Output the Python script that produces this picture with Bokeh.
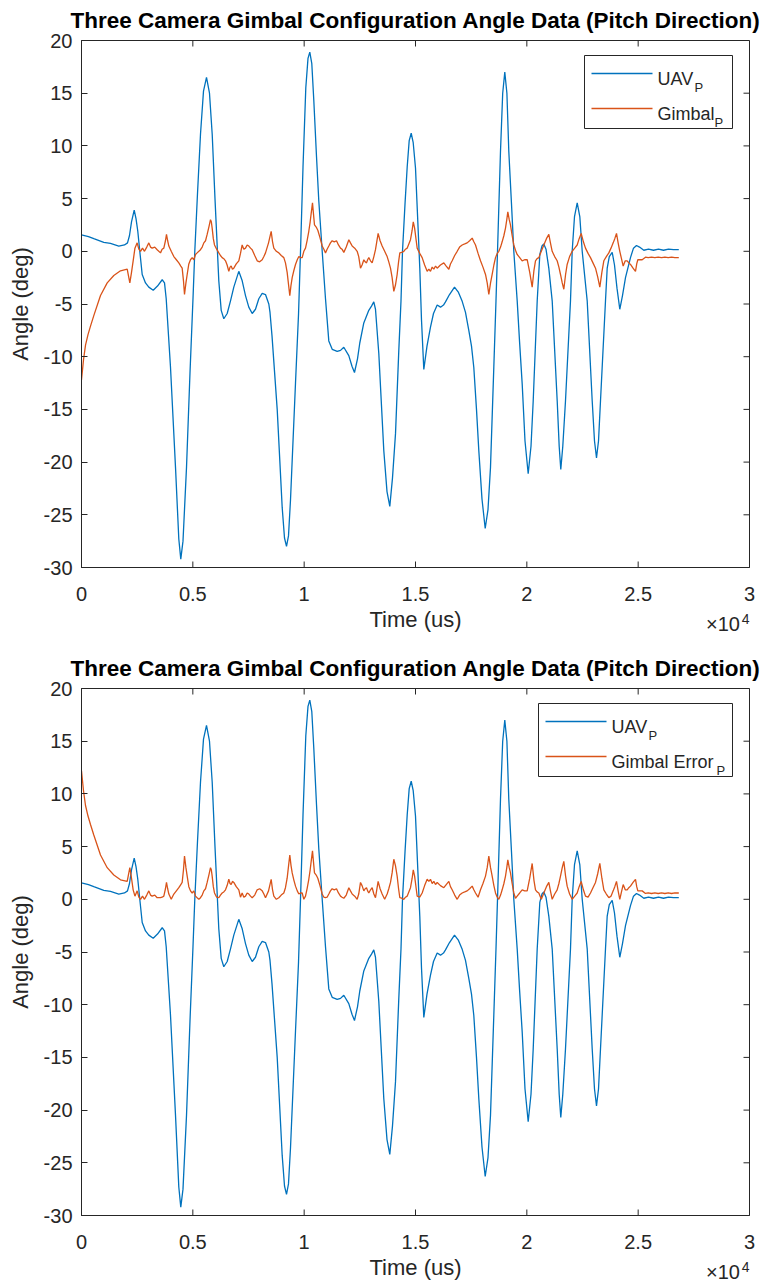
from bokeh.plotting import figure
from bokeh.layouts import column
from bokeh.models import (Range1d, FixedTicker, Label, BoxAnnotation,
                          ColumnDataSource, Title)
from bokeh.embed import file_html
from bokeh.resources import INLINE

# ---------------------------------------------------------------- data
# UAV pitch angle (deg) against time (us)
uav_time = [
    0, 314, 552, 1001, 1302, 1675, 1931, 2066, 2156, 2246,
    2367, 2448, 2528, 2618, 2726, 2874, 3022, 3220, 3413, 3624,
    3728, 3804, 3997, 4222, 4370, 4459, 4558, 4716, 4873, 5007,
    5088, 5210, 5344, 5479, 5614, 5748, 5870, 5995, 6094, 6166,
    6274, 6391, 6543, 6692, 6840, 7064, 7217, 7365, 7513, 7666,
    7814, 7963, 8115, 8263, 8412, 8466, 8555, 8789, 9013, 9117,
    9207, 9296, 9386, 9611, 9746, 9836, 9948, 10073, 10172, 10253,
    10343, 10433, 10554, 10657, 10810, 10958, 11106, 11259, 11484, 11632,
    11780, 12004, 12148, 12260, 12395, 12498, 12678, 12903, 13024, 13127,
    13203, 13352, 13576, 13720, 13846, 13967, 14102, 14250, 14349, 14416,
    14529, 14627, 14717, 14807, 14897, 15000, 15090, 15193, 15269, 15373,
    15516, 15673, 15808, 15974, 16123, 16257, 16347, 16527, 16752, 16931,
    17097, 17245, 17394, 17515, 17618, 17739, 17843, 17986, 18130, 18256,
    18368, 18517, 18615, 18683, 18817, 18916, 19010, 19105, 19190, 19311,
    19415, 19567, 19671, 19792, 19918, 20061, 20187, 20286, 20466, 20583,
    20681, 20762, 20861, 20987, 21139, 21364, 21453, 21525, 21615, 21736,
    21961, 22037, 22141, 22262, 22379, 22487, 22711, 22936, 23039, 23129,
    23219, 23308, 23533, 23609, 23703, 23834, 23937, 24049, 24175, 24296,
    24431, 24655, 24790, 24925, 25060, 25253, 25464, 25689, 25913, 26138,
    26362, 26587, 26825,
]
uav_pitch = [
    1.55, 1.4, 1.2, 0.85, 0.75, 0.5, 0.6, 0.8, 1.5, 2.8,
    3.9, 3.1, 1.9, 0.0, -2.2, -3.0, -3.4, -3.7, -3.3, -2.7,
    -3.0, -4.5, -11.0, -20.5, -27.3, -29.2, -27.5, -20.5, -11.5, -4.5,
    0.0, 5.5, 11.1, 15.2, 16.5, 15.0, 11.1, 5.0, 0.5, -2.8,
    -5.6, -6.4, -5.9, -4.7, -3.4, -1.9, -2.8, -4.2, -5.3, -5.9,
    -5.5, -4.5, -4.0, -4.1, -5.0, -5.8, -8.0, -15.0, -24.3, -27.2,
    -28.0, -27.0, -23.6, -12.5, -6.0, 0.0, 8.0, 15.5, 18.3, 18.9,
    17.8, 14.3, 9.0, 4.8, 0.0, -4.5, -8.5, -9.3, -9.5, -9.4,
    -9.1, -9.9, -10.9, -11.5, -10.2, -8.7, -6.8, -5.6, -5.2, -4.8,
    -5.5, -9.7, -18.9, -22.8, -24.2, -21.5, -17.3, -9.4, -4.7, 0.0,
    4.5, 8.0, 10.5, 11.2, 10.3, 7.9, 3.5, -1.6, -6.5, -11.2,
    -9.0, -7.2, -5.9, -5.1, -5.3, -5.1, -4.8, -4.1, -3.4, -3.9,
    -4.75, -5.8, -7.5, -9.0, -11.0, -15.0, -18.9, -23.5, -26.3, -24.5,
    -20.5, -11.0, -4.7, 0.0, 9.5, 15.0, 17.0, 15.0, 9.5, 4.5,
    0.0, -4.7, -8.5, -12.6, -18.0, -21.1, -18.5, -14.2, -4.7, -0.3,
    0.5, 0.7, 0.2, -1.6, -4.7, -14.2, -18.5, -20.7, -18.5, -14.2,
    -4.7, 0.0, 3.3, 4.6, 3.3, 0.0, -4.7, -14.2, -18.0, -19.6,
    -18.0, -14.2, -4.7, -1.6, -0.5, -0.1, -1.3, -3.5, -5.5, -4.2,
    -2.5, -0.6, 0.3, 0.55, 0.4, 0.1, 0.2, 0.1, 0.2, 0.1,
    0.2, 0.15, 0.15,
]

# Gimbal pitch angle (deg) and its error magnitude against time (us)
gimbal_time = [
    0, 90, 180, 292, 404, 552, 853, 1154, 1451, 1751,
    2052, 2171, 2246, 2320, 2400, 2500, 2575, 2650, 2740, 2829,
    2930, 3024, 3100, 3173, 3290, 3398, 3548, 3620, 3697, 3770,
    3817, 3870, 3922, 4030, 4147, 4260, 4371, 4460, 4521, 4580,
    4626, 4690, 4746, 4820, 4895, 4970, 5045, 5120, 5194, 5270,
    5344, 5420, 5494, 5570, 5643, 5720, 5793, 5830, 5868, 5920,
    5973, 6070, 6167, 6240, 6317, 6390, 6467, 6540, 6616, 6670,
    6721, 6780, 6840, 6950, 7065, 7140, 7215, 7290, 7365, 7440,
    7515, 7590, 7665, 7780, 7890, 8000, 8115, 8190, 8264, 8400,
    8518, 8580, 8637, 8750, 8862, 8970, 9086, 9160, 9236, 9300,
    9355, 9410, 9462, 9540, 9611, 9690, 9761, 9836, 9911, 9985,
    10060, 10130, 10208, 10270, 10315, 10374, 10420, 10464, 10540, 10613,
    10710, 10810, 10885, 10958, 11030, 11107, 11180, 11257, 11350, 11452,
    11540, 11632, 11700, 11781, 11890, 12006, 12080, 12156, 12270, 12380,
    12450, 12530, 12600, 12680, 12740, 12800, 12850, 12903, 12980, 13053,
    13130, 13203, 13260, 13322, 13410, 13502, 13615, 13727, 13800, 13877,
    13950, 14026, 14100, 14176, 14240, 14296, 14380, 14475, 14550, 14625,
    14700, 14775, 14850, 14900, 14960, 15075, 15190, 15299, 15410, 15524,
    15600, 15673, 15750, 15823, 15900, 15973, 16120, 16272, 16380, 16497,
    16570, 16647, 16760, 16872, 16980, 17096, 17210, 17321, 17430, 17546,
    17620, 17695, 17810, 17920, 18030, 18144, 18220, 18293, 18370, 18443,
    18520, 18593, 18670, 18742, 18820, 18892, 18970, 19042, 19100, 19146,
    19210, 19266, 19340, 19415, 19490, 19565, 19680, 19790, 19900, 20016,
    20130, 20240, 20320, 20389, 20460, 20538, 20650, 20763, 20880, 20988,
    21060, 21138, 21250, 21362, 21440, 21512, 21590, 21661, 21740, 21811,
    21920, 22036, 22150, 22261, 22350, 22441, 22540, 22634, 22750, 22859,
    22970, 23084, 23180, 23278, 23370, 23458, 23570, 23683, 23780, 23878,
    23950, 24027, 24100, 24175, 24250, 24327, 24420, 24507, 24580, 24655,
    24770, 24880, 24935, 24985, 25080, 25180, 25329, 25450, 25600, 25750,
    25900, 26050, 26200, 26350, 26500, 26650, 26825,
]
gimbal_pitch = [
    -12.2, -10.3, -8.9, -7.9, -7.1, -6.1, -4.2, -3.0, -2.3, -1.85,
    -1.7, -3.0, -2.0, -0.9, 0.3, 0.8, 0.2, 0.0, 0.3, 0.0,
    0.4, 0.8, 0.4, 0.3, 0.4, 0.15, -0.15, 0.2, 0.3, 1.0,
    1.6, 1.0, 0.5, 0.0, -0.5, -0.8, -1.1, -1.4, -1.6, -2.8,
    -4.1, -3.0, -2.2, -1.2, -0.8, -0.6, -0.8, -0.3, -0.15, 0.0,
    0.15, 0.4, 0.8, 1.0, 1.6, 2.3, 3.0, 2.8, 2.2, 1.2,
    0.6, 0.2, -0.15, -0.4, -0.6, -0.7, -0.9, -1.3, -1.9, -1.5,
    -1.4, -1.7, -1.6, -1.2, -0.9, -0.2, 0.6, 0.2, 0.3, 0.6,
    0.5, 0.3, 0.15, -0.4, -0.9, -1.0, -0.8, -0.5, -0.15, 0.8,
    1.9, 0.9, 0.3, 0.0, -0.15, -0.4, -0.6, -1.1, -2.0, -3.2,
    -4.2, -3.2, -2.5, -1.8, -1.25, -0.8, -0.5, -0.6, -0.6, 0.0,
    0.3, 1.0, 1.9, 2.8, 3.6, 4.6, 3.5, 2.5, 2.3, 2.0,
    1.3, 0.5, 0.2, -0.15, 0.2, 0.5, 0.8, 1.0, 0.9, 1.0,
    0.6, 0.3, 0.2, -0.1, 0.4, 1.1, 0.8, 0.5, 0.3, 0.0,
    -0.5, -1.6, -1.3, -0.8, -1.0, -1.1, -0.8, -0.6, -0.9, -1.1,
    -0.5, 0.15, 0.9, 1.7, 1.0, 0.5, 0.0, -0.5, -1.0, -1.6,
    -2.5, -3.8, -3.2, -2.2, -1.0, -0.15, -0.1, 0.0, 0.2, 0.3,
    0.7, 1.1, 2.0, 2.8, 2.2, 0.3, -0.2, -0.6, -1.3, -1.9,
    -1.7, -1.9, -1.5, -1.7, -1.4, -1.6, -1.3, -1.1, -1.4, -1.7,
    -1.2, -0.9, -0.4, 0.0, 0.4, 0.6, 0.7, 0.8, 1.0, 1.25,
    0.9, 0.6, -0.2, -0.9, -1.5, -2.2, -3.0, -4.1, -3.0, -2.2,
    -1.3, -0.6, -0.2, 0.0, 0.4, 0.9, 1.5, 2.2, 3.0, 3.75,
    3.0, 2.5, 1.5, 0.6, 0.1, -0.3, -0.6, -0.9, -0.8, -0.8,
    -2.0, -3.4, -1.8, -0.9, -0.7, -0.6, 0.0, 0.6, 1.2, 1.6,
    0.8, 0.0, -0.5, -0.9, -1.5, -2.2, -3.0, -3.6, -2.2, -1.25,
    -0.5, 0.0, 0.3, 0.6, 1.2, 1.7, 0.9, 0.3, -0.2, -0.6,
    -1.1, -1.6, -2.4, -3.4, -2.0, -0.9, -0.5, -0.15, 0.3, 0.8,
    1.2, 1.7, 0.8, 0.0, -0.7, -1.4, -0.9, -0.9, -1.1, -1.25,
    -1.6, -1.9, -1.2, -0.8, -0.8, -0.8, -0.56, -0.6, -0.55, -0.6,
    -0.55, -0.6, -0.55, -0.6, -0.55, -0.6, -0.6,
]
gimbal_error_pitch = [
    12.2, 10.3, 8.9, 7.9, 7.1, 6.1, 4.2, 3.0, 2.3, 1.85,
    1.7, 3.0, 2.0, 0.9, 0.3, 0.8, 0.2, 0.0, 0.3, 0.0,
    0.4, 0.8, 0.4, 0.3, 0.4, 0.15, 0.15, 0.2, 0.3, 1.0,
    1.6, 1.0, 0.5, 0.0, 0.5, 0.8, 1.1, 1.4, 1.6, 2.8,
    4.1, 3.0, 2.2, 1.2, 0.8, 0.6, 0.8, 0.3, 0.15, 0.0,
    0.15, 0.4, 0.8, 1.0, 1.6, 2.3, 3.0, 2.8, 2.2, 1.2,
    0.6, 0.2, 0.15, 0.4, 0.6, 0.7, 0.9, 1.3, 1.9, 1.5,
    1.4, 1.7, 1.6, 1.2, 0.9, 0.2, 0.6, 0.2, 0.3, 0.6,
    0.5, 0.3, 0.15, 0.4, 0.9, 1.0, 0.8, 0.5, 0.15, 0.8,
    1.9, 0.9, 0.3, 0.0, 0.15, 0.4, 0.6, 1.1, 2.0, 3.2,
    4.2, 3.2, 2.5, 1.8, 1.25, 0.8, 0.5, 0.6, 0.6, 0.0,
    0.3, 1.0, 1.9, 2.8, 3.6, 4.6, 3.5, 2.5, 2.3, 2.0,
    1.3, 0.5, 0.2, 0.15, 0.2, 0.5, 0.8, 1.0, 0.9, 1.0,
    0.6, 0.3, 0.2, 0.1, 0.4, 1.1, 0.8, 0.5, 0.3, 0.0,
    0.5, 1.6, 1.3, 0.8, 1.0, 1.1, 0.8, 0.6, 0.9, 1.1,
    0.5, 0.15, 0.9, 1.7, 1.0, 0.5, 0.0, 0.5, 1.0, 1.6,
    2.5, 3.8, 3.2, 2.2, 1.0, 0.15, 0.1, 0.0, 0.2, 0.3,
    0.7, 1.1, 2.0, 2.8, 2.2, 0.3, 0.2, 0.6, 1.3, 1.9,
    1.7, 1.9, 1.5, 1.7, 1.4, 1.6, 1.3, 1.1, 1.4, 1.7,
    1.2, 0.9, 0.4, 0.0, 0.4, 0.6, 0.7, 0.8, 1.0, 1.25,
    0.9, 0.6, 0.2, 0.9, 1.5, 2.2, 3.0, 4.1, 3.0, 2.2,
    1.3, 0.6, 0.2, 0.0, 0.4, 0.9, 1.5, 2.2, 3.0, 3.75,
    3.0, 2.5, 1.5, 0.6, 0.1, 0.3, 0.6, 0.9, 0.8, 0.8,
    2.0, 3.4, 1.8, 0.9, 0.7, 0.6, 0.0, 0.6, 1.2, 1.6,
    0.8, 0.0, 0.5, 0.9, 1.5, 2.2, 3.0, 3.6, 2.2, 1.25,
    0.5, 0.0, 0.3, 0.6, 1.2, 1.7, 0.9, 0.3, 0.2, 0.6,
    1.1, 1.6, 2.4, 3.4, 2.0, 0.9, 0.5, 0.15, 0.3, 0.8,
    1.2, 1.7, 0.8, 0.0, 0.7, 1.4, 0.9, 0.9, 1.1, 1.25,
    1.6, 1.9, 1.2, 0.8, 0.8, 0.8, 0.56, 0.6, 0.55, 0.6,
    0.55, 0.6, 0.55, 0.6, 0.55, 0.6, 0.6,
]

x_ticks = [0, 5000, 10000, 15000, 20000, 25000, 30000]
x_tick_labels = ["0", "0.5", "1", "1.5", "2", "2.5", "3"]
y_ticks = [-30, -25, -20, -15, -10, -5, 0, 5, 10, 15, 20]
y_tick_labels = ["-30", "-25", "-20", "-15", "-10", "-5", "0", "5", "10", "15", "20"]

# ---------------------------------------------------------------- style
TITLE = "Three Camera Gimbal Configuration Angle Data (Pitch Direction)"
X_LABEL = "Time (us)"
Y_LABEL = "Angle (deg)"
# axis multiplier "x10^4": the base sits on a second label line under the
# right end of the axis, the power is a small raised text at the far right
X_EXP_BASE, X_EXP_BASE_AT = "\u00d710", 28810
X_EXP_POWER = "4"
BLUE = "#0072BD"
ORANGE = "#D95319"
INK = "#262626"
FONT = "Liberation Sans"

X_MIN, X_MAX = 0, 30000
Y_MIN, Y_MAX = -30, 20
PAGE_W = 765
FRAME_W, FRAME_H = 668, 527
FRAME_TOP = 40
BORDER_L, BORDER_R = 81, 16
TICK_LEN = 6


def frame_x(px):
    """Pixel offset from the left edge of the frame -> data x."""
    return X_MIN + px / FRAME_W * (X_MAX - X_MIN)


def frame_y(py):
    """Pixel offset down from the top edge of the frame -> data y."""
    return Y_MAX - py / FRAME_H * (Y_MAX - Y_MIN)


def style_axis(axis):
    axis.axis_line_color = INK
    axis.axis_line_width = 1
    axis.major_tick_line_color = INK
    axis.major_tick_line_width = 1
    axis.major_tick_out = 0
    axis.minor_tick_line_color = None
    axis.major_label_text_font = FONT
    axis.major_label_text_font_size = "20px"
    axis.major_label_text_color = INK
    axis.axis_label_text_font = FONT
    axis.axis_label_text_font_size = "22px"
    axis.axis_label_text_font_style = "normal"
    axis.axis_label_text_color = INK


def build_panel(fig_height, series_name, series_values, legend_left, sub_offsets):
    p = figure(width=PAGE_W, height=fig_height,
               x_range=Range1d(X_MIN, X_MAX), y_range=Range1d(Y_MIN, Y_MAX),
               output_backend="svg", toolbar_location=None,
               min_border_left=BORDER_L, min_border_right=BORDER_R,
               min_border_top=FRAME_TOP,
               min_border_bottom=fig_height - FRAME_TOP - FRAME_H,
               background_fill_color="white", border_fill_color="white")

    p.title.text = TITLE
    p.title.align = "center"
    p.title.vertical_align = "top"
    p.title.text_font = FONT
    p.title.text_font_size = "22.5px"
    p.title.text_font_style = "bold"
    p.title.text_color = "black"
    p.title.standoff = 11

    p.xgrid.visible = False
    p.ygrid.visible = False
    p.outline_line_color = INK
    p.outline_line_alpha = 1.0
    p.outline_line_width = 1

    xa = p.xaxis[0]
    ya = p.yaxis[0]
    style_axis(xa)
    style_axis(ya)

    # x axis: labels only (tick marks are drawn below)
    xa.ticker = FixedTicker(ticks=x_ticks + [X_EXP_BASE_AT])
    overrides = dict(zip(x_ticks, x_tick_labels))
    overrides[X_EXP_BASE_AT] = "\n" + X_EXP_BASE
    xa.major_label_overrides = overrides
    xa.major_tick_in = 0
    xa.major_label_standoff = 15
    xa.major_label_text_line_height = 1.4
    xa.axis_label = X_LABEL
    xa.axis_label_standoff = -31

    # the raised power of the multiplier, pulled up beside the base
    power = Title(text=X_EXP_POWER, align="right", vertical_align="top",
                  text_font=FONT, text_font_size="14px",
                  text_font_style="normal", text_color=INK, offset=0)
    try:
        power.standoff = -44
    except ValueError:
        power.standoff = 0
    p.add_layout(power, "below")

    ya.ticker = FixedTicker(ticks=y_ticks)
    ya.major_label_overrides = dict(zip(y_ticks, y_tick_labels))
    ya.major_tick_in = TICK_LEN
    ya.major_label_standoff = 9
    ya.axis_label = Y_LABEL
    ya.axis_label_standoff = 8

    # tick marks on the bottom, top and right edges of the box
    n_x, n_y = len(x_ticks), len(y_ticks)
    p.segment(x0=x_ticks, x1=x_ticks,
              y0=[Y_MIN] * n_x, y1=[frame_y(FRAME_H - TICK_LEN)] * n_x,
              line_color=INK, line_width=1)
    p.segment(x0=x_ticks, x1=x_ticks,
              y0=[Y_MAX] * n_x, y1=[frame_y(TICK_LEN)] * n_x,
              line_color=INK, line_width=1)
    p.segment(x0=[X_MAX] * n_y, x1=[frame_x(FRAME_W - TICK_LEN)] * n_y,
              y0=y_ticks, y1=y_ticks,
              line_color=INK, line_width=1)

    uav_src = ColumnDataSource(data=dict(t=uav_time, v=uav_pitch))
    gim_src = ColumnDataSource(data=dict(t=gimbal_time, v=series_values))
    p.line("t", "v", source=uav_src, line_color=BLUE, line_width=1.3)
    p.line("t", "v", source=gim_src, line_color=ORANGE, line_width=1.3)

    # legend box
    p.add_layout(BoxAnnotation(left=frame_x(legend_left), right=frame_x(651),
                               top=frame_y(15), bottom=frame_y(88),
                               fill_color="white", fill_alpha=1.0,
                               line_color=INK, line_width=1, line_alpha=1.0))
    key_x0 = legend_left + 7
    key_x1 = key_x0 + 61
    text_x = key_x1 + 5
    rows_y = [33, 68]
    p.segment(x0=[frame_x(key_x0)] * 2, x1=[frame_x(key_x1)] * 2,
              y0=[frame_y(r) for r in rows_y], y1=[frame_y(r) for r in rows_y],
              line_color=[BLUE, ORANGE], line_width=1.3, level="overlay")
    names = ["UAV", series_name]
    baselines = [38, 73]
    for name, base, sub_dx in zip(names, baselines, sub_offsets):
        p.add_layout(Label(x=frame_x(text_x), y=frame_y(base), text=name,
                           text_font=FONT, text_font_size="18px",
                           text_color=INK, text_baseline="alphabetic"))
        p.add_layout(Label(x=frame_x(text_x + sub_dx), y=frame_y(base + 9),
                           text="P", text_font=FONT, text_font_size="13px",
                           text_color=INK, text_baseline="alphabetic"))
    return p


top_panel = build_panel(648, "Gimbal", gimbal_pitch, 503, [37, 57])
bottom_panel = build_panel(635, "Gimbal Error", gimbal_error_pitch, 457, [37, 105])

layout = column(top_panel, bottom_panel, spacing=0)
open("out.html", "w").write(file_html(layout, INLINE))
